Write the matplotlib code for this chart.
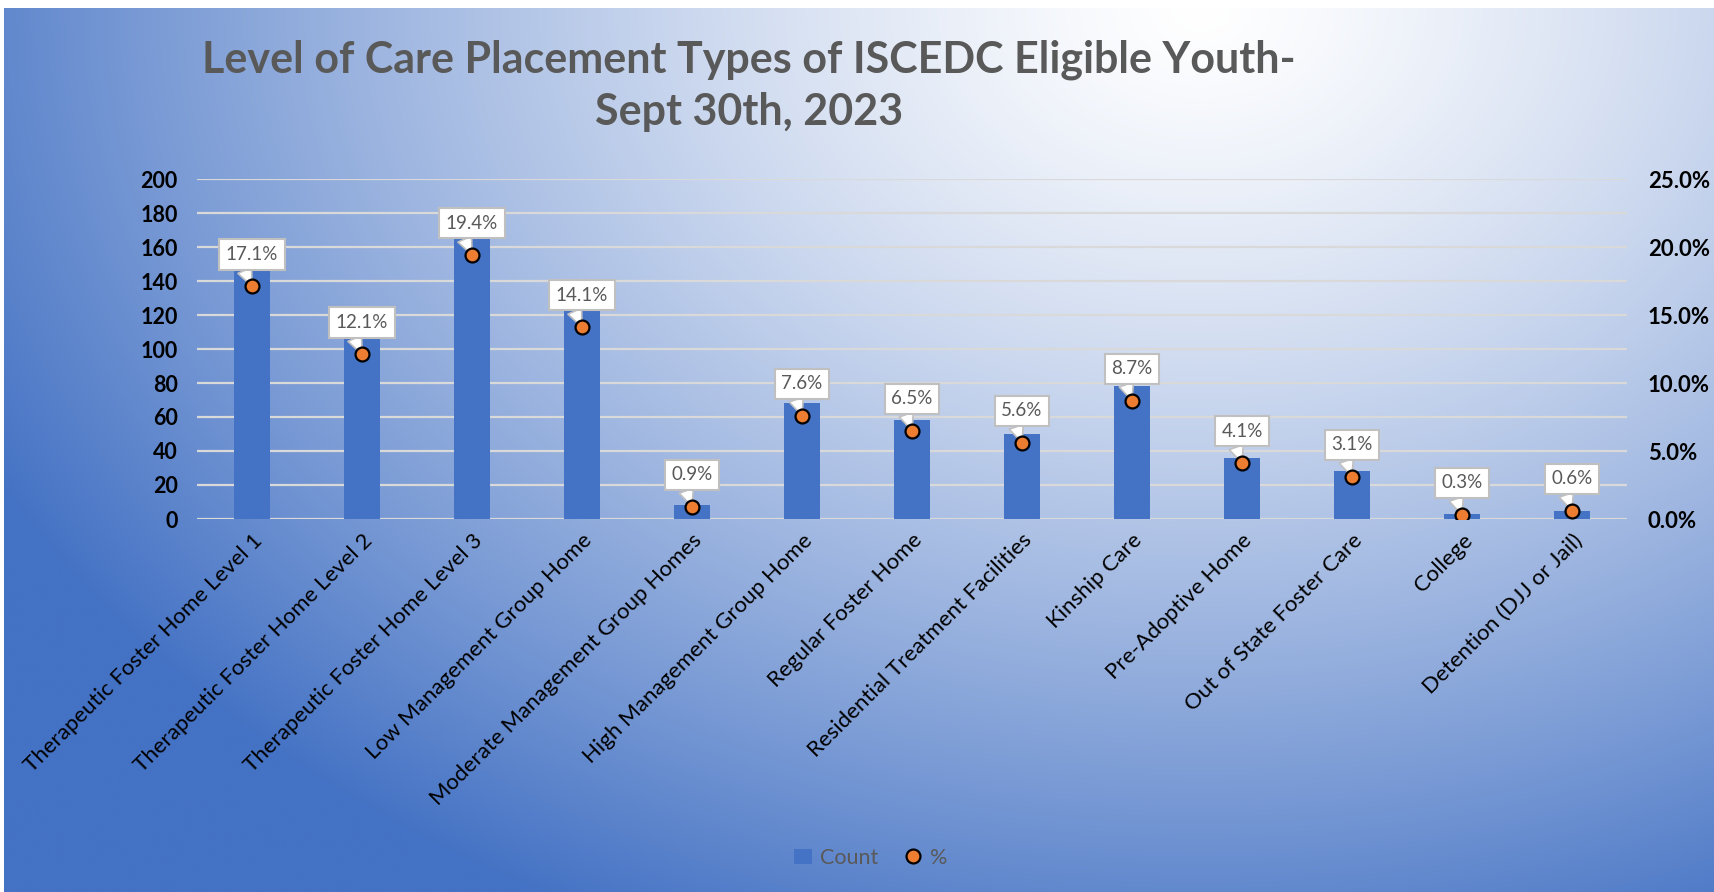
# Level of care placement types - bar (count) + markers (%) on twin axis
import numpy as np
import matplotlib
matplotlib.use("Agg")
import matplotlib.pyplot as plt
from matplotlib.ticker import FuncFormatter

categories = ["Therapeutic Foster Home Level 1", "Therapeutic Foster Home Level 2",
              "Therapeutic Foster Home Level 3", "Low Management Group Home",
              "Moderate Management Group Homes", "High Management Group Home",
              "Regular Foster Home", "Residential Treatment Facilities", "Kinship Care",
              "Pre-Adoptive Home", "Out of State Foster Care", "College",
              "Detention (DJJ or Jail)"]
counts = [152, 108, 173, 126, 8, 68, 58, 50, 78, 36, 28, 3, 5]
pct = [17.1, 12.1, 19.4, 14.1, 0.9, 7.6, 6.5, 5.6, 8.7, 4.1, 3.1, 0.3, 0.6]

title = "Level of Care Placement Types of ISCEDC Eligible Youth-\nSept 30th, 2023"

BLUE = "#4472C4"
ORANGE = "#ED7D31"
GREY_TXT = "#595959"

plt.rcParams['font.family'] = ['Lato', 'DejaVu Sans']

W, H = 1714, 892
fig = plt.figure(figsize=(W / 100, H / 100), dpi=100)
fig.patch.set_facecolor("white")

# gradient background (white top-centre to blue edges)
bg = fig.add_axes([4 / W, 0, 1 - 4 / W, 1 - 8 / H], zorder=-5)
yy, xx = np.mgrid[0:1:400j, 0:1:800j]
d = np.sqrt(((xx - 0.70) / 0.80) ** 2 + (yy / 1.15) ** 2)
t = np.clip(d, 0, 1) ** 1.3
c0 = np.array([1.0, 1.0, 1.0])
c1 = np.array([0x44, 0x72, 0xC4]) / 255
img = c0[None, None, :] * (1 - t[..., None]) + c1[None, None, :] * t[..., None]
bg.imshow(img, aspect="auto", extent=(0, 1, 1, 0))
bg.axis("off")

ax = fig.add_axes([197 / W, 1 - 519 / H, (1627 - 197) / W, (519 - 179) / H])
ax.set_facecolor("none")
x = np.arange(len(categories))

ax.set_axisbelow(True)
ax.yaxis.grid(True, color="#d9d9d9", lw=1.6)
ax.bar(x, counts, width=0.32, color=BLUE, zorder=2, label="Count")
ax.set_ylim(0, 200)
ax.set_yticks(range(0, 201, 20))
ax.set_xlim(-0.5, len(categories) - 0.5)
ax.set_xticks(x)
ax.set_xticklabels(categories, rotation=45, ha="right", va="top",
                   rotation_mode="anchor", fontsize=16, color="black")
for s in ax.spines.values():
    s.set_visible(False)
ax.tick_params(axis="both", length=0)
ax.tick_params(axis="y", labelsize=15.5, pad=14)
ax.tick_params(axis="x", pad=8)
for lbl in ax.get_yticklabels():
    lbl.set_fontweight("bold")

ax2 = ax.twinx()
ax2.set_ylim(0, 25)
ax2.set_yticks(range(0, 26, 5))
ax2.yaxis.set_major_formatter(FuncFormatter(lambda v, p: "{:.1f}%".format(v)))
for s in ax2.spines.values():
    s.set_visible(False)
ax2.tick_params(axis="y", length=0, labelsize=16, pad=15)
for lbl in ax2.get_yticklabels():
    lbl.set_fontweight("bold")

ax2.plot(x, pct, linestyle="none", marker="o", markersize=10, mfc=ORANGE,
         mec="black", mew=1.6, zorder=6, label="%")

for xi, p in zip(x, pct):
    ax2.annotate("{:.1f}%".format(p), xy=(xi, p), xytext=(0, 23),
                 textcoords="offset points", ha="center", va="center",
                 fontsize=13.5, color=GREY_TXT, zorder=5,
                 bbox=dict(boxstyle="square,pad=0.35", fc="white", ec="#c0c0c0", lw=1.5),
                 arrowprops=dict(arrowstyle="wedge,tail_width=0.8,shrink_factor=0.5",
                                 fc="white", ec="#c0c0c0", lw=1.2,
                                 relpos=(0.3, 0.0), shrinkA=0, shrinkB=0))

fig.text(749 / W, 1 - 86 / H, title, ha="center", va="center", fontsize=31,
         fontweight="bold", color=GREY_TXT, linespacing=1.35)

h1, l1 = ax.get_legend_handles_labels()
h2, l2 = ax2.get_legend_handles_labels()
fig.legend(h1 + h2, l1 + l2, loc="center", bbox_to_anchor=(871 / W, 1 - 858 / H),
           ncol=2, frameon=False, fontsize=15.5, labelcolor=GREY_TXT,
           handlelength=0.8, handletextpad=0.4, columnspacing=1.2)

fig.savefig("out.png", dpi=100)
